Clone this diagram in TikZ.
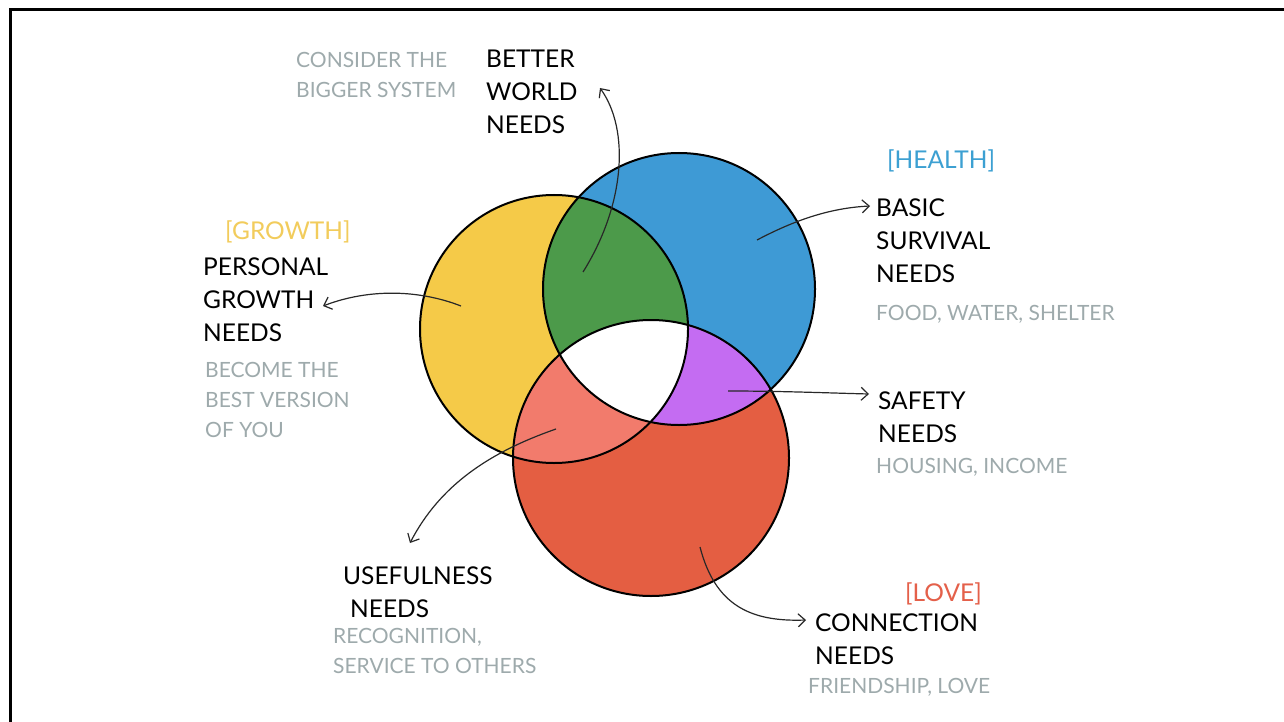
\documentclass[tikz,border=0pt]{standalone}
\usepackage{fontspec}
\setmainfont{Lato}
\usetikzlibrary{arrows.meta}

\definecolor{growthyellow}{RGB}{245,202,72}
\definecolor{healthblue}{RGB}{62,154,213}
\definecolor{loveorange}{RGB}{228,94,66}
\definecolor{worldgreen}{RGB}{76,154,74}
\definecolor{usesalmon}{RGB}{242,123,108}
\definecolor{safepurple}{RGB}{196,108,242}
\definecolor{notegray}{RGB}{158,170,172}
\definecolor{tagyellow}{RGB}{242,204,92}
\definecolor{tagblue}{RGB}{60,160,210}
\definecolor{tagred}{RGB}{228,96,74}
\definecolor{inkline}{RGB}{40,40,40}

\tikzset{
  venn/.style={circle, inner sep=0pt, minimum size=#1},
  outline/.style={draw=black, line width=2pt},
  title/.style={anchor=north west, inner sep=0pt, align=left, text=black,
    font=\fontsize{24.5}{33}\selectfont},
  note/.style={anchor=north west, inner sep=0pt, align=left, text=notegray,
    font=\fontsize{21}{30}\selectfont},
  tag/.style={anchor=north west, inner sep=0pt, font=\fontsize{24.5}{28}\selectfont},
  pointer/.style={draw=inkline, line width=1.2pt,
    -{Straight Barb[length=7pt,width=13pt,line width=1.2pt]}}
}

\begin{document}
\begin{tikzpicture}[x=1pt,y=-1pt]
\useasboundingbox (0,0) rectangle (1284,722);
\fill[white] (0,0) rectangle (1284,722);

% frame along the top and left edges
\draw[line width=3pt] (10,722) -- (10,9.5) -- (1284,9.5);

% the three needs circles
\node[venn=268, fill=growthyellow] (grow) at (554,329) {};
\node[venn=272, fill=healthblue]   (heal) at (679,289) {};
\node[venn=276, fill=loveorange]   (love) at (651,458) {};

% pairwise overlaps
\begin{scope}
  \clip (grow.center) circle[radius=134];
  \fill[worldgreen] (heal.center) circle[radius=136];
\end{scope}
\begin{scope}
  \clip (grow.center) circle[radius=134];
  \fill[usesalmon] (love.center) circle[radius=138];
\end{scope}
\begin{scope}
  \clip (heal.center) circle[radius=136];
  \fill[safepurple] (love.center) circle[radius=138];
\end{scope}
% centre where all three meet
\begin{scope}
  \clip (grow.center) circle[radius=134];
  \clip (heal.center) circle[radius=136];
  \fill[white] (love.center) circle[radius=138];
\end{scope}

% outlines
\draw[outline] (grow.center) circle[radius=134];
\draw[outline] (heal.center) circle[radius=136];
\draw[outline] (love.center) circle[radius=138];

% labels: better world
\node[note]  (bigger) at (296,52) {CONSIDER THE\\BIGGER SYSTEM};
\node[title] (world)  at (486,50) {BETTER\\WORLD\\NEEDS};

% labels: health
\node[tag, text=tagblue] (healthtag) at (887,150) {[HEALTH]};
\node[title] (basic) at (876,199) {BASIC\\SURVIVAL\\NEEDS};
\node[note]  (food)  at (876,305) {FOOD, WATER, SHELTER};

% labels: growth
\node[tag, text=tagyellow] (growthtag) at (225,221) {[GROWTH]};
\node[title] (personal) at (203,258) {PERSONAL\\GROWTH\\NEEDS};
\node[note]  (become)   at (205,362) {BECOME THE\\BEST VERSION\\OF YOU};

% labels: safety
\node[title] (safety)  at (878,392) {SAFETY\\NEEDS};
\node[note]  (housing) at (876,458) {HOUSING, INCOME};

% labels: usefulness
\node[title] (useful) at (343,567) {USEFULNESS\\\hspace*{7pt}NEEDS};
\node[note]  (recog)  at (333,628) {RECOGNITION,\\SERVICE TO OTHERS};

% labels: connection
\node[tag, text=tagred] (lovetag) at (905,583) {[LOVE]};
\node[title] (connect) at (815,614) {CONNECTION\\NEEDS};
\node[note]  (friend)  at (808,678) {FRIENDSHIP, LOVE};

% pointer ends
\coordinate (inGreen)  at (583,272);
\coordinate (inBlue)   at (757,240);
\coordinate (inYellow) at (461,306);
\coordinate (inPurple) at (728,391);
\coordinate (inSalmon) at (556,429);
\coordinate (inRed)    at (700,547);
\coordinate (toWorld)    at (600,88);
\coordinate (toBasic)    at (870,206);
\coordinate (toPersonal) at (323,306);
\coordinate (toSafety)   at (869,394);
\coordinate (toUseful)   at (410,543);
\coordinate (toConnect)  at (806,620);

% pointers from each region to its label
\draw[pointer] (inGreen) .. controls (625,205) and (630,130) .. (toWorld);
\draw[pointer] (inBlue) .. controls (795,220) and (830,208) .. (toBasic);
\draw[pointer] (inYellow) .. controls (420,290) and (370,288) .. (toPersonal);
\draw[pointer] (inPurple) .. controls (780,391) and (830,393) .. (toSafety);
\draw[pointer] (inSalmon) .. controls (490,452) and (440,485) .. (toUseful);
\draw[pointer] (inRed) .. controls (715,605) and (750,622) .. (toConnect);
\end{tikzpicture}
\end{document}
